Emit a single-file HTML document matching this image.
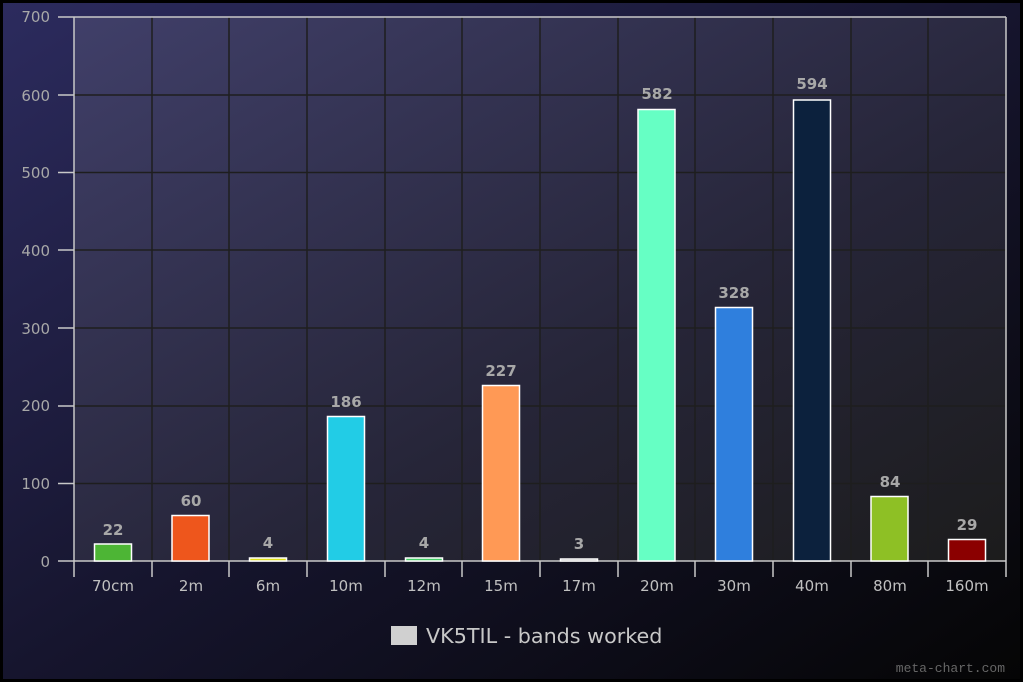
<!DOCTYPE html>
<html><head><style>
html,body{margin:0;padding:0;background:#000;}
svg{display:block;font-family:"DejaVu Sans","Liberation Sans",sans-serif;}
</style></head><body>
<svg width="1023" height="682" xmlns="http://www.w3.org/2000/svg">
<defs>
<linearGradient id="bg" x1="0" y1="0" x2="1" y2="1">
<stop offset="0" stop-color="#2c2b5e"/>
<stop offset="0.5" stop-color="#16152e"/>
<stop offset="1" stop-color="#050505"/>
</linearGradient>
<linearGradient id="pl" x1="0" y1="0" x2="1" y2="1">
<stop offset="0" stop-color="#403f69"/>
<stop offset="0.6" stop-color="#262538"/>
<stop offset="1" stop-color="#1c1c1c"/>
</linearGradient>
</defs>
<rect x="0" y="0" width="1023" height="682" fill="#000"/>
<rect x="3" y="3" width="1017" height="676" fill="url(#bg)"/>
<rect x="74" y="17" width="932" height="544" fill="url(#pl)"/>
<g stroke="#1e1e1e" stroke-width="1.5">
<line x1="74" y1="95" x2="1006" y2="95"/><line x1="74" y1="172.5" x2="1006" y2="172.5"/>
<line x1="74" y1="250" x2="1006" y2="250"/><line x1="74" y1="328" x2="1006" y2="328"/>
<line x1="74" y1="406" x2="1006" y2="406"/><line x1="74" y1="483.5" x2="1006" y2="483.5"/>
<line x1="152" y1="17" x2="152" y2="561"/><line x1="229" y1="17" x2="229" y2="561"/>
<line x1="307" y1="17" x2="307" y2="561"/><line x1="385" y1="17" x2="385" y2="561"/>
<line x1="462" y1="17" x2="462" y2="561"/><line x1="540" y1="17" x2="540" y2="561"/>
<line x1="618" y1="17" x2="618" y2="561"/><line x1="695" y1="17" x2="695" y2="561"/>
<line x1="773" y1="17" x2="773" y2="561"/><line x1="851" y1="17" x2="851" y2="561"/>
<line x1="928" y1="17" x2="928" y2="561"/>
</g>
<g stroke="#c8c8c8" stroke-width="1.5" fill="none">
<line x1="58" y1="17" x2="1006" y2="17"/><line x1="1006" y1="17" x2="1006" y2="561"/>
<line x1="74" y1="17" x2="74" y2="577"/><line x1="58" y1="561" x2="1006" y2="561"/>
<line x1="58" y1="95" x2="74" y2="95"/><line x1="58" y1="172.5" x2="74" y2="172.5"/>
<line x1="58" y1="250" x2="74" y2="250"/><line x1="58" y1="328" x2="74" y2="328"/>
<line x1="58" y1="406" x2="74" y2="406"/><line x1="58" y1="483.5" x2="74" y2="483.5"/>
<line x1="152" y1="561" x2="152" y2="577"/><line x1="229" y1="561" x2="229" y2="577"/>
<line x1="307" y1="561" x2="307" y2="577"/><line x1="385" y1="561" x2="385" y2="577"/>
<line x1="462" y1="561" x2="462" y2="577"/><line x1="540" y1="561" x2="540" y2="577"/>
<line x1="618" y1="561" x2="618" y2="577"/><line x1="695" y1="561" x2="695" y2="577"/>
<line x1="773" y1="561" x2="773" y2="577"/><line x1="851" y1="561" x2="851" y2="577"/>
<line x1="928" y1="561" x2="928" y2="577"/><line x1="1006" y1="561" x2="1006" y2="577"/>
</g>
<g fill="#a8a8a8" font-size="15" text-anchor="end">
<text x="50" y="22">700</text><text x="50" y="101">600</text><text x="50" y="178">500</text>
<text x="50" y="256">400</text><text x="50" y="334">300</text><text x="50" y="411">200</text>
<text x="50" y="489">100</text><text x="50" y="567">0</text>
</g>
<g fill="#c0c0c0" font-size="15" text-anchor="middle">
<text x="113" y="591">70cm</text><text x="191" y="591">2m</text><text x="268" y="591">6m</text>
<text x="346" y="591">10m</text><text x="424" y="591">12m</text><text x="501" y="591">15m</text>
<text x="579" y="591">17m</text><text x="657" y="591">20m</text><text x="734" y="591">30m</text>
<text x="812" y="591">40m</text><text x="890" y="591">80m</text><text x="967" y="591">160m</text>
</g>
<g stroke="#fff" stroke-width="1.5">
<rect x="94.5" y="544" width="37" height="17" fill="#4db535"/>
<rect x="172" y="515.5" width="37" height="45.5" fill="#ee561c"/>
<rect x="249.5" y="558" width="37" height="3" fill="#e0e01a"/>
<rect x="327.5" y="416.5" width="37" height="144.5" fill="#22cce6"/>
<rect x="405.5" y="558" width="37" height="3" fill="#44cc66"/>
<rect x="482.5" y="385.5" width="37" height="175.5" fill="#ff9955"/>
<rect x="560.5" y="559" width="37" height="2" fill="#999"/>
<rect x="638" y="109.5" width="37" height="451.5" fill="#66ffc4"/>
<rect x="715.5" y="307.5" width="37" height="253.5" fill="#2f7fdd"/>
<rect x="793.5" y="100" width="37" height="461" fill="#0c213d"/>
<rect x="871" y="496.5" width="37" height="64.5" fill="#8ec025"/>
<rect x="948.5" y="539.5" width="37" height="21.5" fill="#8b0000"/>
</g>
<g fill="#a8a8a8" font-size="15" font-weight="bold" text-anchor="middle">
<text x="113" y="535">22</text><text x="191" y="506">60</text><text x="268" y="548">4</text>
<text x="346" y="407">186</text><text x="424" y="548">4</text><text x="501" y="376">227</text>
<text x="579" y="549">3</text><text x="657" y="99">582</text><text x="734" y="298">328</text>
<text x="812" y="89">594</text><text x="890" y="487">84</text><text x="967" y="530">29</text>
</g>
<rect x="391" y="626" width="26" height="19" fill="#d0d0d0"/>
<text x="426" y="643" fill="#c8c8c8" font-size="20.7">VK5TIL - bands worked</text>
<text x="1005" y="672" fill="#666" font-size="13" text-anchor="end" font-family="Liberation Mono, monospace">meta-chart.com</text>
</svg>
</body></html>
